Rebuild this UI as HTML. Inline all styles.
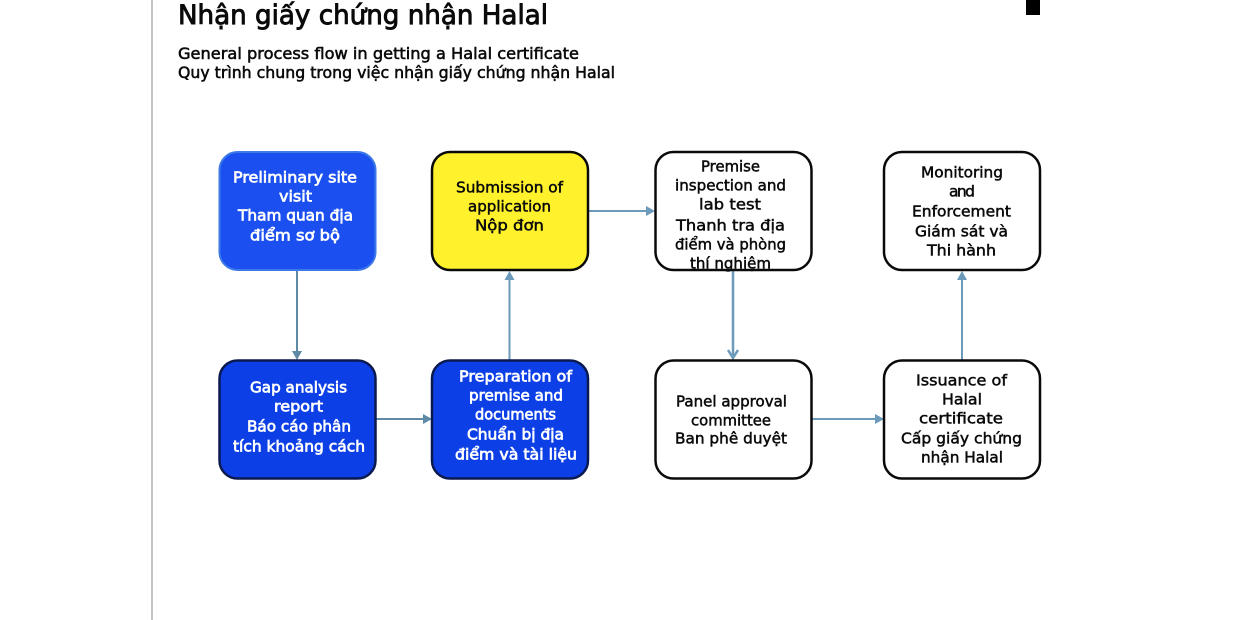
<!DOCTYPE html>
<html lang="vi">
<head>
<meta charset="utf-8">
<title>Nhận giấy chứng nhận Halal</title>
<style>
html,body{margin:0;padding:0;background:#fff;width:1240px;height:620px;overflow:hidden}
svg{display:block}
text{font-family:"DejaVu Sans","Liberation Sans",sans-serif;font-size:15.5px;fill:#0a0a0a;stroke:#0a0a0a;stroke-width:.5}
.w text{fill:#fff;stroke:#fff;stroke-width:.7}
.a{stroke:#6b9abb;stroke-width:2;fill:none}
.h{fill:#6b9abb;stroke:none}
</style>
</head>
<body>
<svg width="1240" height="620" viewBox="0 0 1240 620" xmlns="http://www.w3.org/2000/svg">
<rect width="1240" height="620" fill="#fff"/>
<rect x="151" y="0" width="2" height="620" fill="#c4c4c4"/>
<rect x="1026" y="0" width="14" height="15" fill="#000"/>

<text x="178" y="24" textLength="370" lengthAdjust="spacingAndGlyphs" style="font-size:27px;stroke-width:.9">Nhận giấy chứng nhận Halal</text>
<text x="178" y="59" textLength="401" lengthAdjust="spacingAndGlyphs" style="font-size:16px;stroke-width:.55">General process flow in getting a Halal certificate</text>
<text x="178" y="78" textLength="437" lengthAdjust="spacingAndGlyphs" style="font-size:16px;stroke-width:.55">Quy trình chung trong việc nhận giấy chứng nhận Halal</text>

<!-- connectors -->
<line class="a" x1="297" y1="270" x2="297" y2="354" style="stroke:#5f8aa6"/>
<polygon class="h" points="292,351 302,351 297,360" style="fill:#5f8aa6"/>
<line class="a" x1="376" y1="419" x2="426" y2="419" style="stroke:#5f8aa6"/>
<polygon class="h" points="423,414 423,424 432,419" style="fill:#5f8aa6"/>
<line class="a" x1="509.500" y1="360" x2="509.500" y2="277"/>
<polygon class="h" points="504.500,280 514.500,280 509.500,271"/>
<line class="a" x1="588" y1="211" x2="649" y2="211"/>
<polygon class="h" points="646,206 646,216 655,211"/>
<line class="a" x1="733" y1="270" x2="733" y2="358" style="stroke-width:2.500"/>
<polyline class="a" points="728,350 733,358 738,350" style="stroke-width:2.500"/>
<line class="a" x1="811" y1="419" x2="878" y2="419"/>
<polygon class="h" points="875,414 875,424 884,419"/>
<line class="a" x1="962" y1="360" x2="962" y2="277"/>
<polygon class="h" points="957,280 967,280 962,271"/>

<!-- boxes -->
<rect x="219.500" y="152" width="156" height="118" rx="18" fill="#1b4ff0" stroke="#3d7ae8" stroke-width="2"/>
<rect x="432" y="152" width="156" height="118" rx="18" fill="#fff22d" stroke="#0a0a0a" stroke-width="2.500"/>
<rect x="655.500" y="152" width="156" height="118" rx="18" fill="#fff" stroke="#0a0a0a" stroke-width="2.500"/>
<rect x="884" y="152" width="156" height="118" rx="18" fill="#fff" stroke="#0a0a0a" stroke-width="2.500"/>
<rect x="219.500" y="360.500" width="156" height="118" rx="18" fill="#0d3fe6" stroke="#0a1a50" stroke-width="2.500"/>
<rect x="432" y="360.500" width="156" height="118" rx="18" fill="#0d3fe6" stroke="#0a1a50" stroke-width="2.500"/>
<rect x="655.500" y="360.500" width="156" height="118" rx="18" fill="#fff" stroke="#0a0a0a" stroke-width="2.500"/>
<rect x="884" y="360.500" width="156" height="118" rx="18" fill="#fff" stroke="#0a0a0a" stroke-width="2.500"/>

<g class="w" transform="translate(0,-0.5)">
<text x="233" y="183" textLength="124" lengthAdjust="spacingAndGlyphs">Preliminary site</text>
<text x="279" y="202" textLength="33" lengthAdjust="spacingAndGlyphs">visit</text>
<text x="238" y="221" textLength="115" lengthAdjust="spacingAndGlyphs">Tham quan địa</text>
<text x="250" y="241" textLength="90" lengthAdjust="spacingAndGlyphs">điểm sơ bộ</text>

<text x="250" y="393" textLength="97" lengthAdjust="spacingAndGlyphs">Gap analysis</text>
<text x="274" y="412" textLength="49" lengthAdjust="spacingAndGlyphs">report</text>
<text x="247" y="432" textLength="104" lengthAdjust="spacingAndGlyphs">Báo cáo phân</text>
<text x="233" y="452" textLength="132" lengthAdjust="spacingAndGlyphs">tích khoảng cách</text>

<text x="459" y="382" textLength="113" lengthAdjust="spacingAndGlyphs">Preparation of</text>
<text x="469" y="401" textLength="94" lengthAdjust="spacingAndGlyphs">premise and</text>
<text x="475" y="420" textLength="81" lengthAdjust="spacingAndGlyphs">documents</text>
<text x="467" y="440" textLength="97" lengthAdjust="spacingAndGlyphs">Chuẩn bị địa</text>
<text x="455" y="460" textLength="122" lengthAdjust="spacingAndGlyphs">điểm và tài liệu</text>
</g>

<g transform="translate(0,-0.5)">
<text x="456" y="193" textLength="107" lengthAdjust="spacingAndGlyphs">Submission of</text>
<text x="468" y="212" textLength="83" lengthAdjust="spacingAndGlyphs">application</text>
<text x="475" y="231" textLength="69" lengthAdjust="spacingAndGlyphs">Nộp đơn</text>

<text x="701" y="172" textLength="59" lengthAdjust="spacingAndGlyphs">Premise</text>
<text x="675" y="191" textLength="111" lengthAdjust="spacingAndGlyphs">inspection and</text>
<text x="699" y="210" textLength="62" lengthAdjust="spacingAndGlyphs">lab test</text>
<text x="676" y="231" textLength="109" lengthAdjust="spacingAndGlyphs">Thanh tra địa</text>
<text x="675" y="250" textLength="111" lengthAdjust="spacingAndGlyphs">điểm và phòng</text>
<text x="690" y="269" textLength="81" lengthAdjust="spacingAndGlyphs">thí nghiệm</text>

<text x="921" y="178" textLength="82" lengthAdjust="spacingAndGlyphs">Monitoring</text>
<text x="949" y="197" textLength="26" lengthAdjust="spacing">and</text>
<text x="912" y="217" textLength="99" lengthAdjust="spacingAndGlyphs">Enforcement</text>
<text x="915" y="237" textLength="93" lengthAdjust="spacingAndGlyphs">Giám sát và</text>
<text x="927" y="256" textLength="69" lengthAdjust="spacingAndGlyphs">Thi hành</text>

<text x="676" y="407" textLength="111" lengthAdjust="spacingAndGlyphs">Panel approval</text>
<text x="691" y="426" textLength="80" lengthAdjust="spacingAndGlyphs">committee</text>
<text x="675" y="444" textLength="112" lengthAdjust="spacingAndGlyphs">Ban phê duyệt</text>

<text x="916" y="386" textLength="91" lengthAdjust="spacingAndGlyphs">Issuance of</text>
<text x="942" y="405" textLength="40" lengthAdjust="spacingAndGlyphs">Halal</text>
<text x="919" y="424" textLength="84" lengthAdjust="spacingAndGlyphs">certificate</text>
<text x="901" y="444" textLength="121" lengthAdjust="spacingAndGlyphs">Cấp giấy chứng</text>
<text x="921" y="463" textLength="82" lengthAdjust="spacingAndGlyphs">nhận Halal</text>
</g>
</svg>
</body>
</html>
